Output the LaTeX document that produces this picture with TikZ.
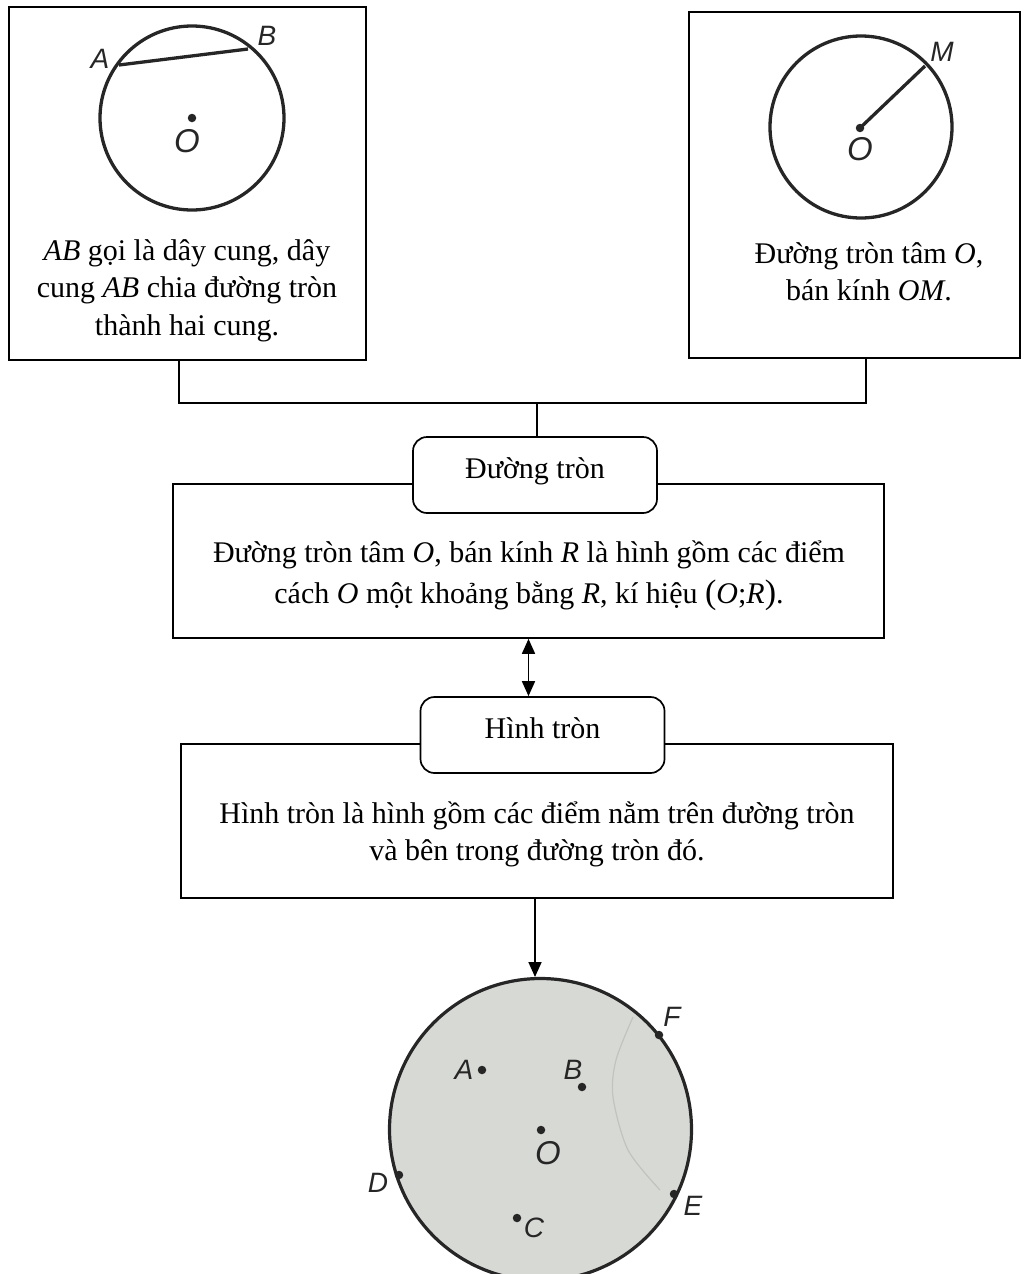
\documentclass[tikz,border=0pt]{standalone}
\usepackage{fontspec}
\setmainfont{Liberation Serif}
\newfontfamily\labfont{Liberation Sans}
\usetikzlibrary{arrows.meta}
\definecolor{figline}{HTML}{262626}
\definecolor{discfill}{HTML}{D7D9D4}
\definecolor{faintarc}{HTML}{BFC4BE}
\begin{document}
\begin{tikzpicture}[x=1pt,y=-1pt,
  box/.style={draw=black,line width=1.7pt,rectangle,inner sep=0pt},
  titlebox/.style={draw=black,line width=1.7pt,rounded corners=14pt,fill=white,inner sep=0pt,
    minimum width=244pt,minimum height=76pt,text height=16pt,text depth=10pt,
    font=\fontsize{30}{37}\selectfont},
  txt/.style={anchor=base,inner sep=0pt,font=\fontsize{30}{37}\selectfont},
  fig/.style={line width=3.3pt,draw=figline},
  lab/.style={inner sep=0pt,font=\labfont\itshape\fontsize{28}{28}\selectfont,text=figline},
  labO/.style={inner sep=0pt,font=\labfont\itshape\fontsize{33}{33}\selectfont,text=figline},
  pt/.style={circle,fill=figline,inner sep=0pt,minimum size=8.5pt},
  conn/.style={line width=1.7pt,draw=black},
  tip/.style={-{Triangle[length=15pt,width=13pt]}},
  dtip/.style={{Triangle[length=15pt,width=13pt]}-{Triangle[length=15pt,width=13pt]}}
]
\useasboundingbox (0,0) rectangle (1023,1274);

% ---------- top-left box ----------
\node[box,minimum width=357pt,minimum height=353pt] (tl) at (187.5,183.5) {};
\draw[fig] (192,118) circle[radius=92pt];
\coordinate (tlA) at (119,65);
\coordinate (tlB) at (248,49);
\draw[fig] (tlA) -- (tlB);
\node[pt] (tlO) at (192,118) {};
\node[lab] (tlAl) at (100,59) {A};
\node[lab] (tlBl) at (267,36) {B};
\node[labO] (tlOl) at (187,141) {O};
\node[txt] (tlt1) at (187,260) {\textit{AB} gọi là dây cung, dây};
\node[txt] (tlt2) at (187,297) {cung \textit{AB} chia đường tròn};
\node[txt] (tlt3) at (187,335) {thành hai cung.};

% ---------- top-right box ----------
\node[box,minimum width=331pt,minimum height=346pt] (tr) at (854.5,185) {};
\draw[fig] (861,127) circle[radius=91pt];
\coordinate (trM) at (925,66);
\node[pt] (trO) at (860,128) {};
\draw[fig] (trO.center) -- (trM);
\node[lab] (trMl) at (942,52) {M};
\node[labO] (trOl) at (860,149) {O};
\node[txt] (trt1) at (869,263) {Đường tròn tâm \textit{O},};
\node[txt] (trt2) at (869,300) {bán kính \textit{OM}.};

% ---------- connectors top ----------
\coordinate (j1) at (179,403);
\coordinate (j2) at (866,403);
\coordinate (j3) at (537,403);

% ---------- box 1 ----------
\node[box,minimum width=711pt,minimum height=154pt] (b1) at (528.5,561) {};
\node[titlebox] (t1) at (535,475) {Đường tròn};
\node[txt] (b1t1) at (529,562) {Đường tròn tâm \textit{O}, bán kính \textit{R} là hình gồm các điểm};
\node[txt] (b1t2) at (529,603) {cách \textit{O} một khoảng bằng \textit{R}, kí hiệu {\fontsize{34}{34}\selectfont(}\textit{O};\textit{R}{\fontsize{34}{34}\selectfont)}.};

\draw[conn] (tl.south -| j1) -- (j1) -- (j2) -- (tr.south -| j2);
\draw[conn] (j3) -- (j3 |- t1.north);

% ---------- box 2 ----------
\node[box,minimum width=712pt,minimum height=154pt] (b2) at (537,821) {};
\node[titlebox] (t2) at (542.5,735) {Hình tròn};
\node[txt] (b2t1) at (537,823) {Hình tròn là hình gồm các điểm nằm trên đường tròn};
\node[txt] (b2t2) at (537,860) {và bên trong đường tròn đó.};

\draw[conn,dtip] (b1.south) -- (b1.south |- t2.north);

% ---------- bottom disc ----------
\draw[line width=3.2pt,draw=figline,fill=discfill] (540.5,1129.5) circle[radius=151pt];
\draw[line width=1.2pt,draw=faintarc] plot[smooth] coordinates {(633,1017) (616,1060) (613,1097) (628,1150) (660,1190)};
\coordinate (dtop) at (535,977);
\coordinate (b2out) at (535,898);
\draw[conn,tip] (b2out) -- (dtop);

\node[pt] (pA) at (482,1070) {};
\node[pt] (pB) at (582,1087) {};
\node[pt] (pO) at (541,1130) {};
\node[pt] (pC) at (517,1218) {};
\node[pt] (pD) at (399,1175) {};
\node[pt] (pE) at (674,1194) {};
\node[pt] (pF) at (659,1035) {};
\node[lab] (lA) at (464,1070) {A};
\node[lab] (lB) at (573,1070) {B};
\node[labO] (lO) at (548,1153) {O};
\node[lab] (lC) at (534,1228) {C};
\node[lab] (lD) at (378,1183) {D};
\node[lab] (lE) at (693,1206) {E};
\node[lab] (lF) at (672,1017) {F};
\end{tikzpicture}
\end{document}
